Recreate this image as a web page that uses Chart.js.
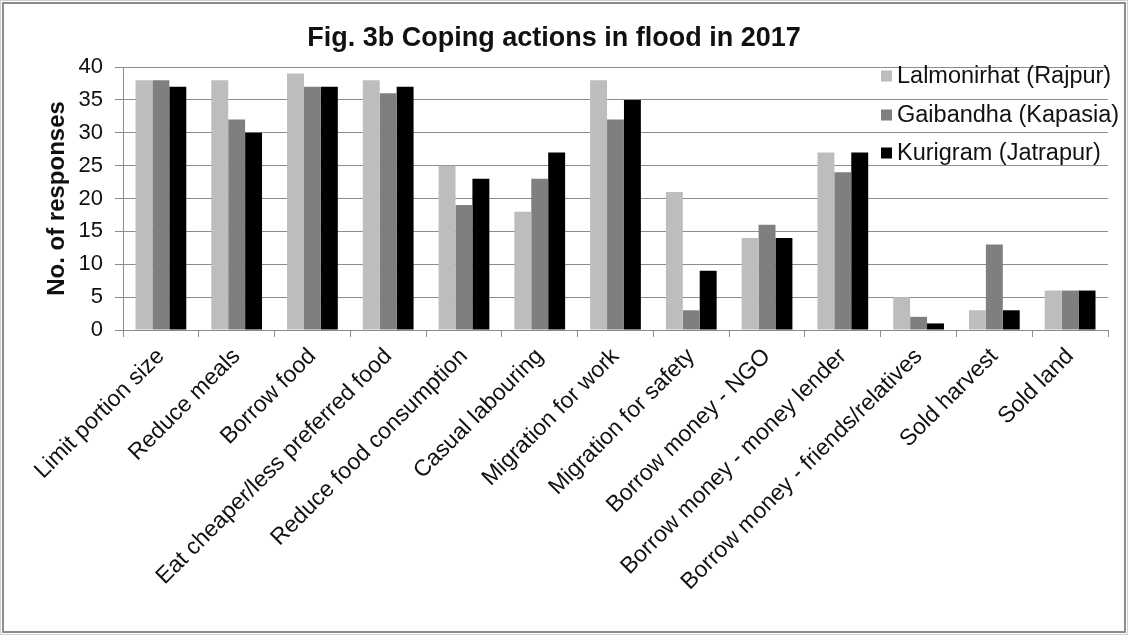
<!DOCTYPE html>
<html>
<head>
<meta charset="utf-8">
<script src="https://cdn.jsdelivr.net/npm/chart.js@4/dist/chart.umd.min.js"></script>
<style>
  html, body { margin: 0; padding: 0; background: #fff; }
  #wrap { width: 1128px; height: 635px; position: relative; }
</style>
</head>
<body>
<div id="wrap"><canvas id="c" width="1128" height="635"></canvas></div>
<script>
// Coping actions reported by households during the 2017 flood
const categories = [
  'Limit portion size',
  'Reduce meals',
  'Borrow food',
  'Eat cheaper/less preferred food',
  'Reduce food consumption',
  'Casual labouring',
  'Migration for work',
  'Migration for safety',
  'Borrow money - NGO',
  'Borrow money - money lender',
  'Borrow money - friends/relatives',
  'Sold harvest',
  'Sold land'
];
const seriesNames = ['Lalmonirhat (Rajpur)', 'Gaibandha (Kapasia)', 'Kurigram (Jatrapur)'];
const lalmonirhat = [38, 38, 39, 38, 25, 18, 38, 21, 14, 27, 5, 3, 6];
const gaibandha   = [38, 32, 37, 36, 19, 23, 32, 3, 16, 24, 2, 13, 6];
const kurigram    = [37, 30, 37, 37, 23, 27, 35, 9, 14, 27, 1, 3, 6];
const yTicks = [0, 5, 10, 15, 20, 25, 30, 35, 40];

const FONT = "'Liberation Sans', Arial, Helvetica, sans-serif";
const barColors = ['#bdbdbd', '#7f7f7f', '#000000'];

// White background and the thin double frame around the figure
const framePlugin = {
  id: 'frame',
  beforeDraw(chart) {
    const ctx = chart.ctx;
    ctx.save();
    ctx.fillStyle = '#ffffff';
    ctx.fillRect(0, 0, chart.width, chart.height);
    ctx.strokeStyle = '#d0d0d0';
    ctx.lineWidth = 1;
    ctx.strokeRect(0.5, 0.5, chart.width - 1, chart.height - 1);
    ctx.strokeStyle = '#8c8c8c';
    ctx.lineWidth = 2;
    ctx.strokeRect(3, 3, chart.width - 6, chart.height - 6);
    ctx.restore();
  }
};

// Legend drawn inside the plot, over the gridlines, at the top right
const insideLegend = {
  id: 'insideLegend',
  afterDatasetsDraw(chart, args, opts) {
    const ctx = chart.ctx;
    ctx.save();
    ctx.font = opts.font;
    ctx.textBaseline = 'middle';
    ctx.textAlign = 'left';
    chart.data.datasets.forEach((ds, i) => {
      const cy = opts.rows[i];
      ctx.fillStyle = ds.backgroundColor;
      ctx.fillRect(opts.boxX, cy - opts.box / 2, opts.box, opts.box);
      ctx.fillStyle = '#111';
      ctx.fillText(ds.label, opts.textX, cy + 1);
    });
    ctx.restore();
  }
};

new Chart(document.getElementById('c'), {
  type: 'bar',
  data: {
    labels: categories,
    datasets: [
      { label: seriesNames[0], data: lalmonirhat, backgroundColor: barColors[0] },
      { label: seriesNames[1], data: gaibandha, backgroundColor: barColors[1] },
      { label: seriesNames[2], data: kurigram, backgroundColor: barColors[2] }
    ]
  },
  options: {
    responsive: false,
    animation: false,
    devicePixelRatio: 1,
    layout: { padding: { left: 0, right: 20, top: 0, bottom: 0 } },
    datasets: { bar: { categoryPercentage: 0.67, barPercentage: 1.0 } },
    plugins: {
      legend: { display: false },
      tooltip: { enabled: false },
      title: {
        display: true,
        text: 'Fig. 3b Coping actions in flood in 2017',
        color: '#111',
        font: { family: FONT, size: 27, weight: 'bold', lineHeight: 1.2 },
        padding: { top: 22, bottom: 12.6 }
      },
      insideLegend: {
        font: "23.5px " + FONT,
        boxX: 881, box: 11, textX: 897,
        rows: [76, 115, 153]
      }
    },
    scales: {
      x: {
        grid: {
          offset: true,
          drawOnChartArea: false,
          drawTicks: true,
          tickLength: 7,
          color: '#8c8c8c'
        },
        border: { color: '#8c8c8c', width: 1 },
        ticks: {
          color: '#111',
          font: { family: FONT, size: 23 },
          minRotation: 45,
          maxRotation: 45,
          autoSkip: false,
          padding: 6
        },
        afterFit(scale) { scale.height = 305; }
      },
      y: {
        min: 0,
        max: 40,
        afterBuildTicks(scale) { scale.ticks = yTicks.map(v => ({ value: v })); },
        grid: { color: '#8c8c8c', lineWidth: 1, tickLength: 8 },
        border: { color: '#8c8c8c', width: 1 },
        ticks: {
          color: '#111',
          font: { family: FONT, size: 22 },
          padding: 12
        },
        title: {
          display: true,
          text: 'No. of responses',
          color: '#111',
          font: { family: FONT, size: 24, weight: 'bold', lineHeight: 1.2 },
          padding: { top: 43, bottom: 0 }
        },
        afterFit(scale) { scale.width = 123; }
      }
    }
  },
  plugins: [framePlugin, insideLegend]
});
</script>
</body>
</html>
